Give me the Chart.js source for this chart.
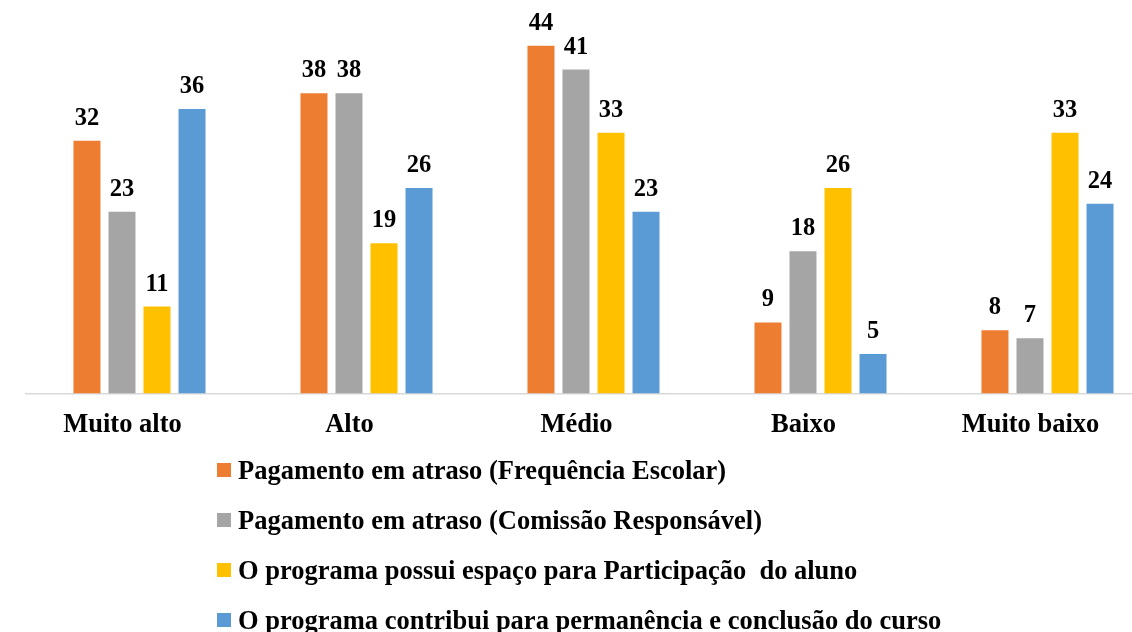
<!DOCTYPE html>
<html lang="pt">
<head>
<meta charset="utf-8">
<title>Avaliação do programa</title>
<script src="https://cdn.jsdelivr.net/npm/chart.js@4.4.1/dist/chart.umd.min.js"></script>
<style>
    html, body { margin: 0; padding: 0; background: #fff; overflow: hidden; }
    #wrap { position: relative; width: 1132px; height: 632px; overflow: hidden; }
    #grafico { position: absolute; left: 0; top: 0; display: block; }
    #legenda {
        position: absolute; left: 217px; top: 445px;
        font-family: 'Liberation Serif', 'Times New Roman', serif;
        font-weight: bold; font-size: 26.5px; color: #000;
    }
    #legenda .item { display: flex; align-items: center; height: 50px; white-space: pre; }
    #legenda .cor { width: 14px; height: 14px; margin-right: 7px; flex: none; }
</style>
</head>
<body>
<div id="wrap">
    <canvas id="grafico" width="1161" height="632"></canvas>
    <div id="legenda"></div>
</div>
<script>
// Dados
const categorias = ['Muito alto', 'Alto', 'Médio', 'Baixo', 'Muito baixo'];
const freqEscolar = [32, 38, 44, 9, 8];
const comissaoResp = [23, 38, 41, 18, 7];
const participacao = [11, 19, 33, 26, 33];
const permanencia = [36, 26, 23, 5, 24];

const nomesSeries = [
    'Pagamento em atraso (Frequência Escolar)',
    'Pagamento em atraso (Comissão Responsável)',
    'O programa possui espaço para Participação  do aluno',
    'O programa contribui para permanência e conclusão do curso'
];
const cores = ['#ED7D31', '#A5A5A5', '#FFC000', '#5B9BD5'];

Chart.defaults.font.family = "'Liberation Serif', 'Times New Roman', serif";
Chart.defaults.color = '#000';

// Rótulos de valor acima das barras
const rotulosValor = {
    id: 'rotulosValor',
    afterDatasetsDraw(chart) {
        const ctx = chart.ctx;
        ctx.save();
        ctx.font = 'bold 24.5px ' + Chart.defaults.font.family;
        ctx.fillStyle = '#000';
        ctx.textAlign = 'center';
        ctx.textBaseline = 'alphabetic';
        chart.data.datasets.forEach((ds, i) => {
            chart.getDatasetMeta(i).data.forEach((barra, j) => {
                ctx.fillText(ds.data[j], barra.x, barra.y - 16);
            });
        });
        ctx.restore();
    }
};

const series = [freqEscolar, comissaoResp, participacao, permanencia];

const grafico = new Chart(document.getElementById('grafico'), {
    type: 'bar',
    data: {
        labels: categorias,
        datasets: series.map((valores, i) => ({
            label: nomesSeries[i],
            data: valores,
            backgroundColor: cores[i],
            borderWidth: 0,
            categoryPercentage: 0.617,
            barPercentage: 0.771
        }))
    },
    options: {
        responsive: false,
        animation: false,
        layout: { padding: { left: 26, right: 0, top: 0, bottom: 0 } },
        plugins: {
            legend: { display: false },
            tooltip: { enabled: false }
        },
        scales: {
            x: {
                grid: { display: false, drawTicks: false },
                border: { display: true, color: '#d9d9d9', width: 1.5 },
                ticks: {
                    font: { size: 26.5, weight: 'bold' },
                    color: '#000',
                    padding: 16,
                    labelOffset: -17,
                    maxRotation: 0
                },
                afterFit: function(scale) {
                    scale.height = 238.5;
                }
            },
            y: {
                display: false,
                min: 0,
                max: 49.8
            }
        }
    },
    plugins: [rotulosValor]
});

// Legenda em HTML, gerada a partir dos datasets
const legenda = document.getElementById('legenda');
grafico.data.datasets.forEach(ds => {
    const item = document.createElement('div');
    item.className = 'item';
    const cor = document.createElement('span');
    cor.className = 'cor';
    cor.style.background = ds.backgroundColor;
    const texto = document.createElement('span');
    texto.textContent = ds.label;
    item.appendChild(cor);
    item.appendChild(texto);
    legenda.appendChild(item);
});
</script>
</body>
</html>
